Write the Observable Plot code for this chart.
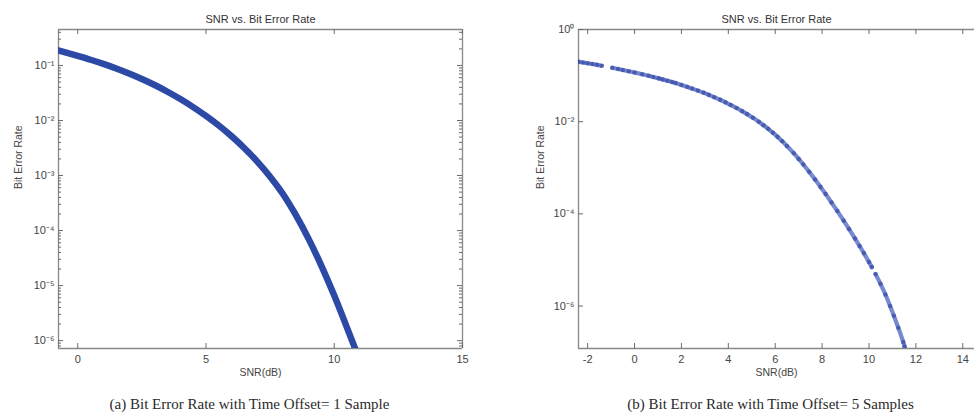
<!DOCTYPE html>
<html><head><meta charset="utf-8">
<script src="https://cdn.jsdelivr.net/npm/d3@7"></script>
<script src="https://cdn.jsdelivr.net/npm/@observablehq/plot@0.6"></script>
<style>
body{margin:0;background:#fff;}
#wrap{display:flex;width:974px;height:419px;overflow:hidden;}
svg{display:block}
</style></head><body><div id="wrap"></div>
<script>
// ---- Panel (a): time offset = 1 sample ----
const snrA = [-0.75, 0, 0.5, 1, 1.5, 2, 2.5, 3, 3.5, 4, 4.5, 5, 5.5, 6, 6.5, 7, 7.5, 8, 8.5, 9, 9.5, 10, 10.5, 10.84];
const berA = [0.187, 0.149, 0.127, 0.1067, 0.0881, 0.0714, 0.0568, 0.0441, 0.0333, 0.0245, 0.0175, 0.0121, 0.00809, 0.00516, 0.00313, 0.00179, 9.53e-4, 4.61e-4, 1.92e-4, 7.06e-5, 2.29e-5, 6.59e-6, 1.71e-6, 6.7e-7];

// ---- Panel (b): time offset = 5 samples (scatter with gaps) ----
const snrB = [-2.39, -2.2, -2.0, -1.8, -1.6, -1.4,
  -0.95, -0.7, -0.5, -0.25, 0.0, 0.33, 0.6, 0.8, 1.03, 1.2, 1.4, 1.6, 1.75, 2.0, 2.25, 2.46, 2.7, 2.95, 3.17, 3.4, 3.65, 3.88, 4.1, 4.35, 4.59, 4.8, 5.05, 5.3, 5.5, 5.7, 5.9, 6.1, 6.3, 6.5, 6.79, 7.0, 7.2, 7.45, 7.7, 7.93, 8.15, 8.4, 8.65, 8.92, 9.15, 9.4, 9.6, 9.78, 10.0, 10.12,
  10.28, 10.49, 10.7, 10.9, 11.06, 11.25, 11.46, 11.52];
const berB = [0.1995, 0.1923, 0.1854, 0.1782, 0.1710, 0.1637,
  0.1479, 0.1390, 0.1324, 0.1242, 0.1164, 0.1067, 0.0989, 0.0933, 0.0871, 0.0826, 0.0774, 0.0724, 0.0687, 0.0627, 0.0569, 0.0522, 0.0472, 0.0423, 0.0381, 0.0340, 0.0299, 0.0262, 0.0231, 0.0198, 0.0169, 0.01459, 0.01213, 0.00995, 0.00839, 0.00700, 0.00577, 0.00469, 0.00376, 0.00297, 0.00207, 0.00156, 0.00118, 8.15e-4, 5.56e-4, 3.85e-4, 2.69e-4, 1.77e-4, 1.15e-4, 7.11e-5, 4.68e-5, 2.93e-5, 2.0e-5, 1.41e-5, 8.99e-6, 7.0e-6,
  4.93e-6, 3.04e-6, 1.78e-6, 1.0e-6, 6.17e-7, 3.39e-7, 1.66e-7, 1.32e-7];
const segB = [1, 1, 1, 1, 1, 1,
  2, 2, 2, 2, 2, 2, 2, 2, 2, 2, 2, 2, 2, 2, 2, 2, 2, 2, 2, 2, 2, 2, 2, 2, 2, 2, 2, 2, 2, 2, 2, 2, 2, 2, 2, 2, 2, 2, 2, 2, 2, 2, 2, 2, 2, 2, 2, 2, 2, 2,
  3, 3, 3, 3, 3, 3, 3, 3];

// ---- Text and ticks ----
const titleText = "SNR vs. Bit Error Rate";
const xLabel = "SNR(dB)";
const yLabel = "Bit Error Rate";
const captionA = "(a) Bit Error Rate with Time Offset= 1 Sample";
const captionB = "(b) Bit Error Rate with Time Offset= 5 Samples";
const xTicksA = [0, 5, 10, 15];
const yTicksA = [1e-1, 1e-2, 1e-3, 1e-4, 1e-5, 1e-6];
const yTickLabelsA = ["10\u207B\u00B9", "10\u207B\u00B2", "10\u207B\u00B3", "10\u207B\u2074", "10\u207B\u2075", "10\u207B\u2076"];
const xTicksB = [-2, 0, 2, 4, 6, 8, 10, 12, 14];
const yTicksB = [1, 1e-2, 1e-4, 1e-6];
const yTickLabelsB = ["10\u2070", "10\u207B\u00B2", "10\u207B\u2074", "10\u207B\u2076"];

const dataA = snrA.map((s, i) => ({snr: s, ber: berA[i]}));
const dataB = snrB.map((s, i) => ({snr: s, ber: berB[i], seg: segB[i]}));

const axisColor = "#888";
const tickColor = "#6a6a6a";
const textColor = "#454545";

function minorLog(domain) {
  const out = [];
  for (let e = -8; e <= 0; e++) for (let m = 2; m <= 9; m++) {
    const v = m * Math.pow(10, e);
    if (v > domain[0] && v < domain[1]) out.push(v);
  }
  return out;
}

function panel(o) {
  const W = 487, H = 419, mT = 29, mB = 71;
  const fw = W - o.marginLeft - o.marginRight, fh = H - mT - mB;
  const tk = {stroke: tickColor, strokeWidth: 1};
  const marks = [
    Plot.ruleY(o.yDomain, {stroke: axisColor, strokeWidth: 1.3}),
    Plot.ruleX(o.rightFrame ? o.xDomain : [o.xDomain[0]], {stroke: axisColor, strokeWidth: 1.3}),
    // labels
    Plot.axisX(o.xTicks, {anchor: "bottom", tickSize: 0, tickPadding: 7, tickFormat: d => String(d), label: null, fontSize: 11, fill: textColor}),
    Plot.axisY(o.yTicks, {anchor: "left", tickSize: 0, tickPadding: 4, tickFormat: d => o.yTickLabels[o.yTicks.indexOf(d)], label: null, fontSize: 11, fill: textColor}),
    // inward ticks
    Plot.ruleX(o.xTicks, {...tk, insetTop: fh - 5}),
    Plot.ruleX(o.xTicks, {...tk, insetBottom: fh - 5}),
    Plot.ruleY(o.yTicks, {...tk, insetRight: fw - 5}),
  ];
  if (o.yMinor) marks.push(Plot.ruleY(o.yMinor, {...tk, insetRight: fw - 3}));
  if (o.rightFrame) {
    marks.push(Plot.ruleY(o.yTicks, {...tk, insetLeft: fw - 5}));
    if (o.yMinor) marks.push(Plot.ruleY(o.yMinor, {...tk, insetLeft: fw - 3}));
  }
  marks.push(...o.dataMarks);
  marks.push(
    Plot.text([titleText], {frameAnchor: "top", dy: -14, text: d => d, fontSize: 11, fill: "#333"}),
    Plot.text([xLabel], {frameAnchor: "bottom", dy: 27, text: d => d, fontSize: 10.5, fill: textColor}),
    Plot.text([yLabel], {frameAnchor: "left", dx: o.yLabelDx, rotate: -90, text: d => d, fontSize: 10.5, fill: textColor}),
    Plot.text([o.caption], {frameAnchor: "bottom", dy: 60, dx: o.capDx, text: d => d, fontSize: 15, fontFamily: "Liberation Serif, Times New Roman, serif", fill: "#2a2a2a"})
  );
  return Plot.plot({
    width: W, height: H,
    marginLeft: o.marginLeft, marginRight: o.marginRight, marginTop: mT, marginBottom: mB,
    style: {fontFamily: "Liberation Sans, Arial, sans-serif", fontSize: "11px", background: "#fff", overflow: "visible"},
    x: {domain: o.xDomain},
    y: {type: "log", domain: o.yDomain},
    marks
  });
}

const domA = [7.2e-7, 0.45];
const domB = [1.2e-7, 1];

const a = panel({
  xDomain: [-0.75, 15], yDomain: domA, xTicks: xTicksA, yTicks: yTicksA, yTickLabels: yTickLabelsA,
  yMinor: minorLog(domA), rightFrame: true, marginLeft: 58, marginRight: 25, yLabelDx: -40, capDx: -11, caption: captionA,
  dataMarks: [
    Plot.line(dataA, {x: "snr", y: "ber", stroke: "#2d49a6", strokeWidth: 6.5, strokeLinecap: "round", strokeLinejoin: "round", curve: "monotone-x", clip: true})
  ]
});
const b = panel({
  xDomain: [-2.39, 14.5], yDomain: domB, xTicks: xTicksB, yTicks: yTicksB, yTickLabels: yTickLabelsB,
  yMinor: null, rightFrame: false, marginLeft: 91, marginRight: 0, yLabelDx: -38, capDx: -6, caption: captionB,
  dataMarks: [
    Plot.line(dataB, {x: "snr", y: "ber", z: "seg", stroke: "#3d59ba", strokeWidth: 4.2, strokeOpacity: 0.7, curve: "monotone-x", clip: true}),
    Plot.dot(dataB, {x: "snr", y: "ber", r: 2.3, fill: "#22399a", fillOpacity: 0.55, stroke: "none", clip: true})
  ]
});
document.getElementById("wrap").append(a, b);
</script></body></html>
